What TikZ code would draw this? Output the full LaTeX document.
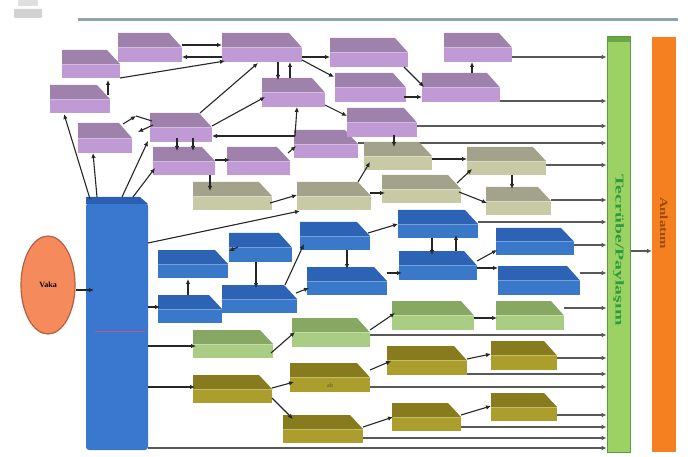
\documentclass[tikz,border=0pt]{standalone}
\usepackage{fontspec}
\setmainfont{Liberation Serif}
\usetikzlibrary{arrows.meta,calc,backgrounds,shapes.geometric}

% face colours of the slabs: T = top face, F = front face
\definecolor{puT}{HTML}{9E82AC}\definecolor{puF}{HTML}{C09AD4}
\definecolor{khT}{HTML}{A2A38A}\definecolor{khF}{HTML}{C8CAA6}
\definecolor{blT}{HTML}{2C63B4}\definecolor{blF}{HTML}{3A78CA}
\definecolor{lgT}{HTML}{86A862}\definecolor{lgF}{HTML}{A9CD82}
\definecolor{olT}{HTML}{877B1E}\definecolor{olF}{HTML}{AB9E2C}
\definecolor{barBlue}{HTML}{3A77CF}\definecolor{barBlueTop}{HTML}{2A5FB3}
\definecolor{colGreen}{HTML}{9CD163}\definecolor{colGreenEdge}{HTML}{5F9A3C}
\definecolor{colGreenText}{HTML}{2E9B3C}
\definecolor{colOrange}{HTML}{F5801F}\definecolor{colOrangeText}{HTML}{9A4A10}
\definecolor{ovalFill}{HTML}{F58A5C}\definecolor{ovalEdge}{HTML}{B2613F}
\definecolor{ruleBlue}{HTML}{8CA3B3}
\definecolor{markRed}{HTML}{C25A6A}

% \slab{name}{x0}{y0}{x1}{y1}{family}: a bevelled slab with a named node over it
\newcommand\slab[6]{%
  \pgfmathsetmacro\slabmid{#3+0.5*(#5-#3)}%
  \fill[#6F] (#2,\slabmid) rectangle (#4,#5);
  \fill[#6T] (#2,#3) -- ({#4-13},#3) -- (#4,\slabmid) -- (#2,\slabmid) -- cycle;
  \draw[#6F!70!white, line width=0.6pt] (#2,\slabmid) -- (#4,\slabmid);
  \node[slabnode, minimum width={(#4-#2)*1pt}, minimum height={(#5-#3)*1pt}]
    (#1) at ({(#2+#4)/2},{(#3+#5)/2}) {};
}

\tikzset{
  slabnode/.style={shape=rectangle, inner sep=0pt, outer sep=0pt},
  ar/.style={draw=black!85, line width=1.1pt, -{Latex[length=5pt,width=4.5pt]}},
  ln/.style={draw=black!85, line width=1.1pt},
  tb/.style={draw=black!65, line width=1.4pt, -{Latex[length=5pt,width=5pt]}},
}

\begin{document}
\begin{tikzpicture}[x=1pt,y=-1pt]
\useasboundingbox (0,0) rectangle (688,457);

% header
\fill[gray!35, rounded corners=1pt] (14,9) rectangle (42,18);
\fill[gray!25, rounded corners=1pt] (18,0) rectangle (38,6);
\draw[ruleBlue, line width=3pt] (78,20) -- (678,20);

% main column
\fill[barBlue, rounded corners=3pt] (86,203) rectangle (148,450);
\fill[barBlueTop] (86,197) -- (140,197) -- (148,204) -- (86,204) -- cycle;
\node[slabnode, minimum width=62pt, minimum height=253pt] (BAR) at (117,323.5) {};
\draw[markRed, line width=1pt] (95,331) -- (145,331);

% case oval
\node[ellipse, draw=ovalEdge, fill=ovalFill, line width=1.2pt, minimum width=54pt,
      minimum height=98pt, inner sep=0pt] (Vaka) at (48,285)
      {\bfseries\fontsize{8}{9}\selectfont Vaka};

% collecting column and output column
\node[draw=colGreenEdge, fill=colGreen, line width=1pt, minimum width=23pt,
      minimum height=415pt, inner sep=0pt] (GB) at (618.5,244.5) {};
\fill[colGreenEdge!80!colGreen] (607.5,37.5) rectangle (629.5,42);
\node[rotate=-90, text=colGreenText, font=\bfseries\fontsize{12}{14}\selectfont]
  (GBtext) at (618.5,250) {\scalebox{1.65}[1]{Tecrübe/Paylaşım}};
\node[fill=colOrange, minimum width=24pt, minimum height=415pt, inner sep=0pt]
  (OB) at (664,244.5) {};
\node[rotate=-90, text=colOrangeText, font=\bfseries\fontsize{11}{13}\selectfont]
  (OBtext) at (664,223) {\scalebox{1.35}[1]{Anlatım}};

% purple slabs
\slab{P1}{118}{33}{182}{62}{pu}
\slab{P2}{62}{50}{120}{78}{pu}
\slab{P3}{50}{85}{110}{113}{pu}
\slab{P4}{222}{33}{302}{62}{pu}
\slab{P5}{262}{78}{325}{107}{pu}
\slab{P6}{78}{123}{132}{153}{pu}
\slab{P7}{150}{113}{212}{142}{pu}
\slab{P8}{153}{147}{215}{175}{pu}
\slab{P9}{227}{147}{290}{175}{pu}
\slab{P10}{294}{130}{358}{158}{pu}
\slab{P11}{330}{38}{408}{67}{pu}
\slab{P12}{335}{73}{406}{102}{pu}
\slab{P13}{347}{108}{417}{137}{pu}
\slab{P14}{422}{73}{500}{102}{pu}
\slab{P15}{444}{33}{512}{62}{pu}

% khaki slabs
\slab{K1}{193}{182}{272}{210}{kh}
\slab{K2}{297}{182}{371}{210}{kh}
\slab{K3}{364}{142}{432}{170}{kh}
\slab{K4}{382}{175}{461}{203}{kh}
\slab{K5}{467}{147}{546}{175}{kh}
\slab{K6}{486}{187}{551}{215}{kh}

% blue slabs
\slab{B1}{158}{250}{228}{278}{bl}
\slab{B2}{229}{233}{292}{262}{bl}
\slab{B3}{300}{222}{370}{250}{bl}
\slab{B4}{398}{210}{478}{238}{bl}
\slab{B5}{222}{285}{297}{313}{bl}
\slab{B6}{307}{267}{387}{295}{bl}
\slab{B7}{399}{251}{477}{280}{bl}
\slab{B8}{158}{295}{222}{323}{bl}
\slab{B9}{496}{228}{574}{255}{bl}
\slab{B10}{498}{266}{580}{295}{bl}

% light green slabs
\slab{G1}{193}{330}{273}{358}{lg}
\slab{G2}{292}{318}{370}{347}{lg}
\slab{G3}{392}{301}{474}{330}{lg}
\slab{G4}{496}{301}{564}{330}{lg}

% olive slabs
\slab{O1}{193}{375}{272}{403}{ol}
\slab{O2}{290}{363}{370}{392}{ol}
\node[font=\fontsize{6}{7}\selectfont, text=black!70] (O2text) at (330,385) {ab};
\slab{O3}{283}{415}{363}{443}{ol}
\slab{O4}{387}{346}{467}{375}{ol}
\slab{O5}{491}{341}{557}{370}{ol}
\slab{O6}{392}{403}{461}{431}{ol}
\slab{O7}{491}{393}{557}{421}{ol}

% line passing behind K3
\begin{pgfonlayer}{background}
\draw[tb] ($(P10.north east)+(0,13)$) -- (GB.west |- 0,143);
\end{pgfonlayer}

% feeds into the collecting column
\foreach \b/\yy in {P15/57, P14/101, P13/126, K5/165, K6/200, B4/222, B9/245,
                    B10/273, G4/308, G2/335, O5/358, O4/374, O2/387, O7/415,
                    O6/427, O3/438, BAR/448}
  \draw[tb] (\b.east |- 0,\yy) -- (GB.west |- 0,\yy);
\draw[tb] (GB.east |- 0,251) -- (OB.west |- 0,251);

% oval into the column
\draw[ar] (Vaka.east |- 0,290) -- ($(BAR.north west)+(8,93)$);

% column top to purple slabs
\draw[ar] ($(BAR.north west)+(4,2)$) -- ($(P3.south west)+(14,1)$);
\draw[ar] ($(BAR.north west)+(11,0)$) -- ($(P6.south west)+(15,0)$);
\draw[ar] ($(BAR.north west)+(36,0)$) -- ($(P7.south west)+(-2,-1)$);
\draw[ar] ($(BAR.north west)+(47,0)$) -- ($(P8.south west)+(2,-7)$);

% purple links
\coordinate (apex) at ($(P6.north east)+(4,-7)$);
\draw[ar] ($(P6.north east)+(-9,1)$) -- (apex);
\draw[ln] (apex) -- ($(P7.north west)+(2,8)$);
\draw[ar] ($(P7.north west)+(3,12)$) -- ($(P6.north east)+(6,9)$);
\draw[ar] ($(P1.north east)+(0,12)$) -- ($(P4.north west)+(0,12)$);
\draw[ar] ($(P4.north west)+(0,24)$) -- ($(P1.north east)+(0,24)$);
\draw[ar] (P2.south east) -- ($(P4.south west)+(3,-1)$);
\draw[ar] ($(P3.north west)+(58,10)$) -- ($(P2.south west)+(46,2)$);
\draw[ar] ($(P7.north west)+(50,0)$) -- ($(P4.south west)+(36,1)$);
\draw[ar] ($(P7.north east)+(0,13)$) -- ($(P5.south west)+(3,-10)$);
\draw[ar] ($(P4.south west)+(56,0)$) -- ($(P5.north west)+(16,2)$);
\draw[ar] ($(P5.north west)+(28,0)$) -- ($(P4.south west)+(68,0)$);
\draw[ar] ($(P4.south east)+(0,-5)$) -- ($(P11.south west)+(0,-10)$);
\draw[ar] ($(P4.south east)+(0,-2)$) -- ($(P12.north west)+(-1,4)$);
\draw[ar] ($(P5.south east)+(0,-2)$) -- ($(P13.north west)+(0,8)$);
\draw[ar] ($(P11.south east)+(-4,0)$) -- ($(P14.north west)+(2,14)$);
\draw[ar] ($(P12.south east)+(-2,-5)$) -- ($(P14.south west)+(0,-5)$);
\draw[ar] ($(P14.north west)+(50,0)$) -- ($(P15.south west)+(28,0)$);
\draw[ar] ($(P13.south west)+(47,-2)$) -- ($(K3.north west)+(30,5)$);
\coordinate (tee) at ($(P10.north west)+(1,6)$);
\draw[ar] (tee) -- ($(P7.south east)+(0,-6)$);
\draw[ar] (tee) -- ($(P5.south east)+(-28,0)$);
\draw[ar] ($(P9.north east)+(-2,6)$) -- ($(P10.north west)+(2,16)$);
\draw[ar] ($(P7.south west)+(27,-4)$) -- ($(P8.north west)+(24,4)$);
\draw[ar] ($(P7.south west)+(43,-4)$) -- ($(P8.north west)+(40,4)$);
\draw[ar] ($(P8.north east)+(0,13)$) -- ($(P9.north west)+(3,13)$);
\draw[ar] ($(P8.south west)+(57,0)$) -- ($(K1.north west)+(17,9)$);

% khaki links
\draw[ar] ($(K1.south east)+(-2,-7)$) -- ($(K2.north west)+(0,13)$);
\draw[ar] ($(BAR.north east)+(0,46)$) -- ($(K2.south west)+(3,1)$);
\draw[ar] ($(K2.north west)+(61,0)$) -- ($(K3.south west)+(6,-8)$);
\draw[ar] ($(K2.north east)+(-1,11)$) -- ($(K4.north west)+(3,18)$);
\draw[ar] ($(K3.north east)+(0,17)$) -- ($(K5.north west)+(0,12)$);
\draw[ar] ($(K4.north east)+(-4,8)$) -- ($(K5.south west)+(5,-6)$);
\draw[ar] ($(K4.north east)+(-2,17)$) -- ($(K6.north west)+(1,16)$);
\draw[ar] ($(K5.south west)+(45,0)$) -- ($(K6.north west)+(26,2)$);

% blue links
\draw[ar] ($(BAR.north east)+(0,110)$) -- ($(B8.north west)+(2,12)$);
\draw[ar] ($(B8.north west)+(30,0)$) -- ($(B1.south west)+(30,1)$);
\draw[ar] ($(B2.north west)+(9,14)$) -- ($(B1.north east)+(1,1)$);
\draw[ar] ($(B2.south west)+(27,0)$) -- ($(B5.north west)+(34,3)$);
\draw[ar] ($(B5.north east)+(-12,0)$) -- ($(B3.south west)+(4,-6)$);
\draw[ar] ($(B5.north east)+(-1,8)$) -- ($(B6.south west)+(2,-7)$);
\draw[ar] ($(B3.south west)+(47,0)$) -- ($(B6.north west)+(40,2)$);
\draw[ar] ($(B3.north east)+(-2,11)$) -- ($(B4.north west)+(0,14)$);
\draw[ar] ($(B6.north east)+(0,6)$) -- ($(B7.north west)+(3,22)$);
\draw[ar] ($(B4.south west)+(34,0)$) -- ($(B7.north west)+(33,4)$);
\draw[ar] ($(B7.north west)+(57,0)$) -- ($(B4.south west)+(58,-3)$);
\draw[ar] ($(B7.north east)+(0,10)$) -- ($(B9.south west)+(1,-5)$);
\draw[ar] ($(B7.north east)+(0,17)$) -- ($(B10.north west)+(0,2)$);

% light green links
\draw[ar] ($(BAR.north east)+(0,149)$) -- ($(G1.north west)+(3,16)$);
\draw[ar] ($(G1.south east)+(-2,-5)$) -- ($(G2.north west)+(3,14)$);
\draw[ar] ($(G2.north east)+(0,12)$) -- ($(G3.north west)+(3,12)$);
\draw[ar] ($(G3.north east)+(0,17)$) -- ($(G4.north west)+(1,17)$);

% olive links
\draw[ar] ($(BAR.north east)+(0,190)$) -- ($(O1.north west)+(2,12)$);
\draw[ar] ($(O1.north east)+(0,13)$) -- ($(O2.north west)+(4,19)$);
\draw[ar] ($(O1.north east)+(0,23)$) -- ($(O3.north west)+(10,4)$);
\draw[ar] ($(O2.north east)+(0,7)$) -- ($(O4.north west)+(4,15)$);
\draw[ar] ($(O4.north east)+(0,13)$) -- ($(O5.north west)+(0,13)$);
\draw[ar] ($(O3.north east)+(0,12)$) -- ($(O6.north west)+(1,14)$);
\draw[ar] ($(O6.north east)+(0,12)$) -- ($(O7.north west)+(0,13)$);
\end{tikzpicture}
\end{document}
